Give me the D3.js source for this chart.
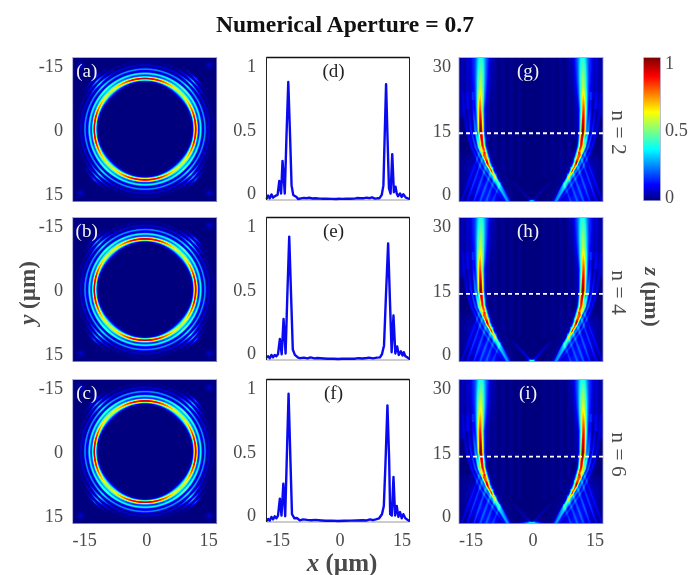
<!DOCTYPE html>
<html>
<head>
<meta charset="utf-8">
<script src="https://cdn.jsdelivr.net/npm/d3@7"></script>
<style>
body { margin: 0; background: #fff; }
#chart { position: relative; width: 690px; height: 575px; overflow: hidden; }
canvas, svg { position: absolute; left: 0; top: 0; }
canvas { filter: blur(0.5px); }
text { font-family: "Liberation Serif", serif; }
</style>
</head>
<body>
<div id="chart"></div>
<script>
var rowNames = ["n = 2", "n = 4", "n = 6"];
var ringLetters = ["(a)", "(b)", "(c)"];
var profileLetters = ["(d)", "(e)", "(f)"];
var fieldLetters = ["(g)", "(h)", "(i)"];
var xyTicks = [-15, 0, 15];
var zTicks = [0, 15, 30];
var intensityTicks = [0, 0.5, 1];

// jet colour map
var jetStops = [0, 0.11, 0.36, 0.62, 0.87, 1];
var jetColors = ["#00007f", "#0000ff", "#00ffff", "#ffff00", "#ff0000", "#7f0000"];

// transverse rings, amplitude read at angles 0..90 deg from the x axis
var ringAngles = [0, 15, 30, 38, 45, 52, 60, 75, 90];
var ringRadii = [12.25, 13.45, 14.5, 15.5, 16.4, 17.3];
var ringSigmas = [0.33, 0.24, 0.22, 0.19, 0.18, 0.17];
var ringMainSigma = [0.33, 0.35, 0.44, 0.5, 0.54, 0.5, 0.44, 0.35, 0.33];
var ringAmps = [
  [0.95, 0.88, 0.7, 0.62, 0.56, 0.62, 0.7, 0.88, 0.95],
  [0.36, 0.36, 0.37, 0.39, 0.42, 0.39, 0.37, 0.36, 0.36],
  [0.25, 0.25, 0.25, 0.29, 0.36, 0.29, 0.25, 0.25, 0.25],
  [0.07, 0.07, 0.09, 0.2, 0.36, 0.2, 0.09, 0.07, 0.07],
  [0.02, 0.02, 0.03, 0.12, 0.3, 0.12, 0.03, 0.02, 0.02],
  [0, 0, 0, 0.04, 0.2, 0.04, 0, 0, 0]
];
var ringGain = [1, 1, 1];
var ringCentreY = [-0.2, -0.1, -0.1];
var cornerDot = [15.5, 15.5, 0.07];

// longitudinal main arm, |x| against z
var armZ = [-2, 0.5, 3.7, 7.5, 11.4, 15, 20, 25, 32];
var armX = [5.6, 7.0, 8.8, 10.65, 11.9, 12.35, 12.5, 12.4, 12.3];
var armW = [0.28, 0.3, 0.36, 0.42, 0.46, 0.48, 0.56, 0.75, 0.95];
var armAmps = [
  [0.12, 0.18, 0.32, 0.6, 0.88, 1.0, 0.74, 0.46, 0.28],
  [0.12, 0.18, 0.32, 0.62, 0.85, 1.0, 0.74, 0.46, 0.28],
  [0.12, 0.18, 0.32, 0.62, 0.88, 1.0, 0.78, 0.52, 0.28]
];
var glowZ = [14, 20, 26, 32];
var glowX = [12.4, 12.5, 12.4, 12.3];
var glowW = [0.9, 1.1, 1.5, 1.7];
var glowA = [0.01, 0.06, 0.1, 0.11];

// outer fringes running next to the main arm
var fringeZ = [-2, 1.6, 6.3, 11, 15, 20, 24];
var fringeX = [
  [5.1, 7.1, 10.3, 12.75, 13.7, 14.2, 14.3],
  [5.6, 8.0, 11.3, 13.6, 14.7, 15.3, 15.5],
  [6.2, 9.0, 12.3, 14.5, 15.7, 16.4, 16.6]
];
var fringeA = [
  [0.1, 0.14, 0.26, 0.38, 0.22, 0.1, 0.05],
  [0.08, 0.11, 0.16, 0.2, 0.14, 0.07, 0.04],
  [0.06, 0.08, 0.1, 0.12, 0.09, 0.05, 0.03]
];

// faint lines crossing the fan below the arm: x1, z1, x2, z2, amp
var fanLines = [
  [12.2, 11, 17.2, -2, 0.07],
  [11.4, 10, 15.8, -2, 0.09],
  [10.4, 8.5, 14.2, -2, 0.09],
  [9.4, 6.5, 12.7, -2, 0.09],
  [8.5, 5, 11.2, -2, 0.08],
  [7.6, 3, 9.6, -2, 0.07]
];
var fanGlowZ = [-2, 2, 6, 10];
var fanGlowX = [10.5, 11.5, 12.5, 13.5];
var fanGlowA = [0.13, 0.12, 0.07, 0.01];

// faint vertical stripes: x, z from, z to, amp
var stripes = [
  [3, 4, 32, 0.012],
  [5, 5, 32, 0.016],
  [7, 6, 32, 0.02],
  [9, 9, 32, 0.024],
  [10.5, 13, 32, 0.03],
  [14.4, 22, 32, 0.05],
  [15.6, 20, 32, 0.06],
  [16.8, 18, 32, 0.05]
];

// bright spot and X at the bottom centre
var spotAmps = [0.42, 0.5, 0.45];
var spotWidths = [0.5, 0.55, 1.5];
var crossTipX = [4.5, 4.5, 4.5];
var crossTipZ = [3, 3, 3];
var crossAmps = [0.05, 0.12, 0.07];

// transverse line cuts
var profileX = [
  [-17.4,-17,-16.6,-16.2,-15.8,-15.1,-14.7,-14.3,-13.85,-13.5,-12.95,-12.55,-12.1,-11.65,-11.3,-10.9,-10.1,-9.7,-9,-8.3,-7.6,-7,-6.2,-5.5,-4.4,-3.6,-2.8,-1.5,-0.5,0.3,1,2,3,4,4.6,5.5,6.3,7,7.6,8.3,9,9.6,10.1,10.65,11.05,11.35,11.7,12.05,12.4,12.8,13.2,13.6,14,14.3,14.6,15.1,15.5,15.9,16.5,17,17.4],
  [-17.4,-17,-16.6,-16.2,-15.8,-15.4,-15,-14.6,-14.15,-13.7,-13.25,-12.75,-12.35,-11.87,-11.4,-11,-10.5,-9.7,-9.2,-8.3,-7.4,-6.7,-5.7,-5,-3.5,-2.5,-1,0,1,2,3.3,4,5,6,7,7.6,8.5,9.5,10.2,10.7,11.2,11.65,12.2,12.65,13.05,13.5,13.95,14.4,14.8,15.3,15.7,16,16.4,16.9,17.4],
  [-17.4,-17,-16.6,-16.2,-15.8,-15.4,-15,-14.6,-14.15,-13.75,-13.3,-12.85,-12.5,-12.03,-11.55,-11.2,-10.6,-10,-9.3,-8.5,-7.5,-6.5,-5.5,-4,-3,-1.5,0,1.5,3,4.5,6,7,7.8,8.5,9.2,10,10.7,11.15,11.55,12.03,12.45,12.7,13.1,13.5,13.9,14.3,14.7,15.1,15.5,15.9,16.4,16.9,17.4]
];
var profileY = [
  [0,0.025,0.005,0.034,0.01,0.025,0.03,0.132,0.04,0.28,0.04,0.45,0.86,0.45,0.1,0.03,0.015,0,0.005,0.008,0.006,0.009,0.004,0.005,0.003,0.002,0.002,0.001,0,0.002,0.001,0.003,0.002,0.003,0.007,0.005,0.006,0.01,0.006,0.012,0.003,0.005,0.006,0.03,0.1,0.45,0.845,0.45,0.08,0.04,0.33,0.05,0.09,0.04,0.02,0.04,0.015,0.035,0.01,0.005,0],
  [0.01,0.02,0.005,0.03,0.012,0.03,0.02,0.035,0.147,0.035,0.294,0.04,0.45,0.9,0.45,0.07,0.03,0.01,0.006,0.01,0.005,0.012,0.005,0.007,0.004,0.002,0.002,0,0.002,0.002,0.003,0.002,0.006,0.004,0.007,0.01,0.005,0.01,0.012,0.035,0.1,0.45,0.85,0.42,0.05,0.32,0.04,0.093,0.03,0.056,0.025,0.05,0.02,0.012,0],
  [0,0.015,0.003,0.03,0.012,0.035,0.02,0.04,0.164,0.04,0.275,0.035,0.42,0.936,0.42,0.05,0.02,0.022,0.005,0.012,0.008,0.006,0.008,0.004,0.002,0.003,0,0.002,0.003,0.004,0.006,0.004,0.012,0.006,0.012,0.02,0.05,0.11,0.42,0.85,0.45,0.05,0.04,0.323,0.04,0.11,0.03,0.066,0.02,0.05,0.02,0.01,0]
];

// where each dashed line sits
var dashZ = [14.2, 14.05, 13.9];

var ringCol = {left: 72.7, size: 144};
var profileCol = {left: 266.5, size: 143};
var fieldCol = {left: 459, size: 144};
var rowTops = [57.5, 217.5, 379.5];
var textColor = "#4a4a4a";
var tickSize = 18.2;

var chart = d3.select("#chart");
var svg = chart.append("svg").attr("width", 690).attr("height", 575);

var jet = d3.scaleLinear().domain(jetStops).range(jetColors).clamp(true);
var lut = d3.range(256).map(function(i) { return d3.rgb(jet(i / 255)); });

function gauss(d, s) { return Math.exp(-d * d / (2 * s * s)); }

function paint(left, top, size, fn) {
  var canvas = chart.insert("canvas", "svg")
      .attr("width", size).attr("height", size)
      .style("left", left + "px").style("top", top + "px");
  var ctx = canvas.node().getContext("2d");
  var img = ctx.createImageData(size, size);
  for (var j = 0; j < size; j++) {
    var row = fn.row(j + 0.5);
    for (var i = 0; i < size; i++) {
      var v = Math.max(0, Math.min(1, row(i + 0.5)));
      var c = lut[Math.round(v * 255)], k = 4 * (j * size + i);
      img.data[k] = c.r; img.data[k + 1] = c.g; img.data[k + 2] = c.b; img.data[k + 3] = 255;
    }
  }
  ctx.putImageData(img, 0, 0);
}

function frameHeat(left, top, size) {
  svg.append("rect")
      .attr("x", left).attr("y", top).attr("width", size).attr("height", size)
      .attr("fill", "none").attr("stroke", "#9a9ad0").attr("stroke-width", 0.8);
}

function leftLabels(axisX, top, ticks, scale) {
  var g = svg.append("g")
      .attr("transform", "translate(" + axisX + ",0)")
      .call(d3.axisLeft(scale).tickValues(ticks).tickSize(0).tickPadding(0).tickFormat(String));
  g.select(".domain").remove();
  g.selectAll("text").attr("font-size", tickSize).attr("font-family", "Liberation Serif").attr("fill", textColor);
}

function bottomLabels(col) {
  var c = col.left + col.size / 2 + 1.5;
  var tick = d3.scaleLinear().domain([-15, 15]).range([c - 62, c + 62]);
  var g = svg.append("g")
      .attr("transform", "translate(0,533)")
      .call(d3.axisBottom(tick).tickValues(xyTicks).tickSize(0).tickPadding(0).tickFormat(String));
  g.select(".domain").remove();
  g.selectAll("text").attr("font-size", tickSize).attr("font-family", "Liberation Serif").attr("fill", textColor);
}

function letter(x, y, s, fill) {
  svg.append("text").attr("x", x).attr("y", y).attr("dy", "0.33em")
      .attr("text-anchor", "middle").attr("font-size", 19).attr("fill", fill).text(s);
}

// left column: rings
var ringAngleScale = ringAmps.map(function(a) {
  return d3.scaleLinear().domain(ringAngles).range(a);
});
var ringSigmaScale = d3.scaleLinear().domain(ringAngles).range(ringMainSigma);

rowTops.forEach(function(top, r) {
  var x = d3.scaleLinear().domain([-17.4, 17.4]).range([0, ringCol.size]);
  var y = d3.scaleLinear().domain([-17.4, 17.4]).range([0, ringCol.size]);
  paint(ringCol.left, top, ringCol.size, {row: function(pj) {
    var yv = y.invert(pj) - ringCentreY[r];
    return function(pi) {
      var xv = x.invert(pi), rad = Math.sqrt(xv * xv + yv * yv);
      var ang = Math.atan2(Math.abs(yv), Math.abs(xv)) * 180 / Math.PI;
      var sum = 0;
      ringRadii.forEach(function(rr, k) {
        var s = k === 0 ? ringSigmaScale(ang) : ringSigmas[k];
        sum += ringAngleScale[k](ang) * gauss(rad - rr, s);
      });
      sum += cornerDot[2] * gauss(Math.abs(xv) - cornerDot[0], 0.5) * gauss(Math.abs(yv) - cornerDot[1], 0.5);
      return sum * ringGain[r];
    };
  }});
  frameHeat(ringCol.left, top, ringCol.size);
  var tick = d3.scaleLinear().domain([-15, 15]).range([top + 8.5, top + 136]);
  leftLabels(63, top, xyTicks, tick);
  letter(ringCol.left + 14, top + 13, ringLetters[r], "#f4f4f4");
});
bottomLabels(ringCol);

// middle column: line cuts
var line = d3.line();
rowTops.forEach(function(top, r) {
  var bottom = top + profileCol.size - 0.5;
  var x = d3.scaleLinear().domain([-17.4, 17.4]).range([profileCol.left, profileCol.left + profileCol.size]);
  var y = d3.scaleLinear().domain([0, 1]).range([bottom - 1, bottom - 137]);
  var pts = profileX[r].map(function(d, i) { return [x(d), y(profileY[r][i])]; });

  svg.append("line").attr("x1", profileCol.left).attr("x2", profileCol.left + profileCol.size)
      .attr("y1", bottom).attr("y2", bottom).attr("stroke", "#999").attr("stroke-width", 1.2);
  svg.append("path").attr("d", line(pts)).attr("fill", "none")
      .attr("stroke", "#0a0af0").attr("stroke-width", 2.4).attr("stroke-linejoin", "round");
  svg.append("path")
      .attr("d", "M" + profileCol.left + "," + bottom + "V" + top + "H" + (profileCol.left + profileCol.size) + "V" + bottom)
      .attr("fill", "none").attr("stroke", "#222").attr("stroke-width", 1);
  svg.append("line").attr("x1", profileCol.left).attr("x2", profileCol.left + profileCol.size)
      .attr("y1", top).attr("y2", top).attr("stroke", "#111").attr("stroke-width", 1.6);

  var tick = d3.scaleLinear().domain([0, 1]).range([top + 135.5, top + 8]);
  leftLabels(256, top, intensityTicks, tick);
  letter(profileCol.left + 67, top + 13, profileLetters[r], "#222");
});
bottomLabels(profileCol);

// right column: longitudinal field
var armXs = d3.scaleLinear().domain(armZ).range(armX);
var armWs = d3.scaleLinear().domain(armZ).range(armW);
var glowXs = d3.scaleLinear().domain(glowZ).range(glowX).clamp(true);
var glowWs = d3.scaleLinear().domain(glowZ).range(glowW).clamp(true);
var glowAs = d3.scaleLinear().domain(glowZ).range(glowA).clamp(true);
var fringeXs = fringeX.map(function(a) { return d3.scaleLinear().domain(fringeZ).range(a); });
var fringeAs = fringeA.map(function(a) { return d3.scaleLinear().domain(fringeZ).range(a).clamp(true); });
var fanXs = d3.scaleLinear().domain(fanGlowZ).range(fanGlowX).clamp(true);
var fanAs = d3.scaleLinear().domain(fanGlowZ).range(fanGlowA).clamp(true);

rowTops.forEach(function(top, r) {
  var x = d3.scaleLinear().domain([-17.4, 17.4]).range([0, fieldCol.size]);
  var z = d3.scaleLinear().domain([-1.65, 31.8]).range([fieldCol.size, 0]);
  var armA = d3.scaleLinear().domain(armZ).range(armAmps[r]);

  paint(fieldCol.left, top, fieldCol.size, {row: function(pj) {
    var zv = z.invert(pj);
    var terms = [];
    terms.push([armXs(zv), armWs(zv), armA(zv)]);
    if (zv > 14) terms.push([glowXs(zv), glowWs(zv), glowAs(zv)]);
    fringeX.forEach(function(f, k) {
      if (zv < 24) terms.push([fringeXs[k](zv), 0.26, fringeAs[k](zv)]);
    });
    fanLines.forEach(function(f) {
      if (zv < f[1]) {
        var t = (zv - f[1]) / (f[3] - f[1]);
        terms.push([f[0] + t * (f[2] - f[0]), 0.22, f[4]]);
      }
    });
    if (zv < 10) terms.push([fanXs(zv), 2.6, fanAs(zv)]);
    stripes.forEach(function(s) {
      if (zv > s[1]) terms.push([s[0], 0.35, s[3]]);
    });
    if (zv < crossTipZ[r]) {
      var c = (zv + 1.65) / (crossTipZ[r] + 1.65);
      terms.push([c * crossTipX[r], 0.3, crossAmps[r] * (1 - c * 0.7)]);
    }
    return function(pi) {
      var xv = x.invert(pi) - 0.2, ax = Math.abs(xv), sum = 0;
      for (var t = 0; t < terms.length; t++) {
        sum += terms[t][2] * gauss(ax - terms[t][0], terms[t][1]);
      }
      sum += spotAmps[r] * gauss(xv, spotWidths[r]) * gauss(zv + 1.65, 0.35);
      return sum;
    };
  }});
  frameHeat(fieldCol.left, top, fieldCol.size);

  svg.append("line")
      .attr("x1", fieldCol.left).attr("x2", fieldCol.left + fieldCol.size)
      .attr("y1", top + z(dashZ[r])).attr("y2", top + z(dashZ[r]))
      .attr("stroke", "#fff").attr("stroke-width", 1.8).attr("stroke-dasharray", "4,3");

  var tick = d3.scaleLinear().domain([0, 15, 30]).range([top + 136, top + 73, top + 8]);
  leftLabels(451, top, zTicks, tick);
  letter(fieldCol.left + 69, top + 13, fieldLetters[r], "#f4f4f4");

  svg.append("text")
      .attr("transform", "translate(619," + (top + 75) + ") rotate(90)")
      .attr("text-anchor", "middle").attr("dy", "0.33em")
      .attr("font-size", 21.5).attr("fill", textColor).text(rowNames[r]);
});
bottomLabels(fieldCol);

// colour bar
var barX = 643.7, barW = 16.6, barTop = 57.7, barH = 143;
var grad = svg.append("defs").append("linearGradient")
    .attr("id", "jetbar").attr("x1", 0).attr("x2", 0).attr("y1", 1).attr("y2", 0);
grad.selectAll("stop").data(jetStops).enter().append("stop")
    .attr("offset", function(d) { return d; })
    .attr("stop-color", function(d, i) { return jetColors[i]; });
svg.append("rect").attr("x", barX).attr("y", barTop).attr("width", barW).attr("height", barH)
    .attr("fill", "url(#jetbar)").attr("stroke", "#9a9ad0").attr("stroke-width", 0.6);
var barTick = d3.scaleLinear().domain([0, 1]).range([197, 63]);
var barAxis = svg.append("g").attr("transform", "translate(665,0)")
    .call(d3.axisRight(barTick).tickValues(intensityTicks).tickSize(0).tickPadding(0).tickFormat(String));
barAxis.select(".domain").remove();
barAxis.selectAll("text").attr("font-size", tickSize).attr("font-family", "Liberation Serif").attr("fill", textColor);

// title and axis names
svg.append("text").attr("x", 345).attr("y", 32).attr("text-anchor", "middle")
    .attr("font-size", 23.6).attr("font-weight", "bold").attr("fill", "#111")
    .text("Numerical Aperture = 0.7");

var yName = svg.append("text")
    .attr("transform", "translate(27,293) rotate(-90)")
    .attr("text-anchor", "middle").attr("dy", "0.33em")
    .attr("font-size", 23).attr("font-weight", "bold").attr("fill", textColor);
yName.append("tspan").attr("font-style", "italic").text("y");
yName.append("tspan").text(" (µm)");

var xName = svg.append("text")
    .attr("x", 342).attr("y", 571).attr("text-anchor", "middle")
    .attr("font-size", 25).attr("font-weight", "bold").attr("fill", textColor);
xName.append("tspan").attr("font-style", "italic").text("x");
xName.append("tspan").text(" (µm)");

var zName = svg.append("text")
    .attr("transform", "translate(652,297) rotate(90)")
    .attr("text-anchor", "middle").attr("dy", "0.33em")
    .attr("font-size", 22).attr("font-weight", "bold").attr("fill", textColor);
zName.append("tspan").attr("font-style", "italic").text("z");
zName.append("tspan").text(" (µm)");
</script>
</body>
</html>
